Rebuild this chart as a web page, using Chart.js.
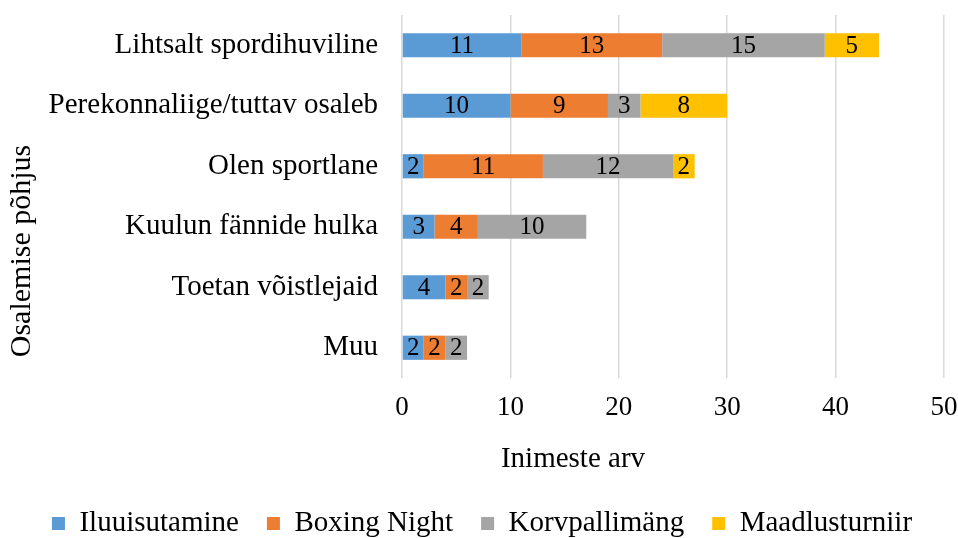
<!DOCTYPE html>
<html>
<head>
<meta charset="utf-8">
<script src="https://cdn.jsdelivr.net/npm/chart.js@4.4.0/dist/chart.umd.min.js"></script>
<style>
  html, body { margin: 0; padding: 0; background: #fff; }
  #wrap { width: 958px; height: 538px; }
</style>
</head>
<body>
<div id="wrap"><canvas id="chart" width="958" height="538"></canvas></div>
<script>
// Data
const categories = ['Lihtsalt spordihuviline', 'Perekonnaliige/tuttav osaleb', 'Olen sportlane',
                    'Kuulun fännide hulka', 'Toetan võistlejaid', 'Muu'];
const iluuisutamine = [11, 10, 2, 3, 4, 2];
const boxingNight   = [13, 9, 11, 4, 2, 2];
const korvpallimang = [15, 3, 12, 10, 2, 2];
const maadlusturniir = [5, 8, 2, 0, 0, 0];
const xTicks = [0, 10, 20, 30, 40, 50];

const serif = '"Liberation Serif", "Times New Roman", serif';

// numbers in the middle of each segment
const segmentLabels = {
    id: 'segmentLabels',
    afterDatasetsDraw(chart) {
        const ctx = chart.ctx;
        ctx.save();
        ctx.font = '25px ' + serif;
        ctx.fillStyle = '#000';
        ctx.textAlign = 'center';
        ctx.textBaseline = 'middle';
        chart.data.datasets.forEach((ds, i) => {
            const meta = chart.getDatasetMeta(i);
            meta.data.forEach((bar, j) => {
                const v = ds.data[j];
                if (!v) return;
                ctx.fillText(String(v), (bar.x + bar.base) / 2, bar.y + 1);
            });
        });
        ctx.restore();
    }
};

// axis titles, placed like in the Excel original (not centred on the plot)
const axisTitles = {
    id: 'axisTitles',
    afterDraw(chart) {
        const ctx = chart.ctx;
        const area = chart.chartArea;
        ctx.save();
        ctx.fillStyle = '#000';
        ctx.textAlign = 'center';
        ctx.textBaseline = 'middle';
        ctx.font = '29px ' + serif;
        ctx.fillText('Inimeste arv', area.left + 171, area.bottom + 81);
        ctx.font = '30px ' + serif;
        ctx.translate(22, area.top + 236);
        ctx.rotate(-Math.PI / 2);
        ctx.fillText('Osalemise põhjus', 0, 0);
        ctx.restore();
    }
};

new Chart(document.getElementById('chart'), {
    type: 'bar',
    data: {
        labels: categories,
        datasets: [
            { label: 'Iluuisutamine', data: iluuisutamine, backgroundColor: '#5B9BD5' },
            { label: 'Boxing Night', data: boxingNight, backgroundColor: '#ED7D31' },
            { label: 'Korvpallimäng', data: korvpallimang, backgroundColor: '#A5A5A5' },
            { label: 'Maadlusturniir', data: maadlusturniir, backgroundColor: '#FFC000' }
        ]
    },
    options: {
        indexAxis: 'y',
        responsive: false,
        animation: false,
        maintainAspectRatio: false,
        categoryPercentage: 1,
        barPercentage: 0.4,
        layout: { padding: { left: 20, right: 14, top: 15, bottom: -10 } },
        scales: {
            x: {
                stacked: true,
                min: 0,
                max: 50,
                afterBuildTicks: axis => { axis.ticks = xTicks.map(v => ({ value: v })); },
                afterFit: axis => {
                    axis.height = 103;
                    axis.paddingLeft = 0;
                    axis.paddingRight = 0;
                },
                grid: { color: '#D9D9D9', lineWidth: 1.5, drawTicks: false },
                border: { display: false },
                ticks: { color: '#000', padding: 14, font: { family: serif, size: 27 } }
            },
            y: {
                stacked: true,
                afterFit: axis => {
                    axis.width = 382;
                    axis.paddingTop = 0;
                    axis.paddingBottom = 0;
                },
                grid: { display: false, drawTicks: false },
                border: { display: false },
                ticks: { color: '#000', padding: 24, font: { family: serif, size: 29 } }
            }
        },
        plugins: {
            legend: {
                position: 'bottom',
                labels: {
                    color: '#000',
                    boxWidth: 13,
                    boxHeight: 13,
                    padding: 28,
                    font: { family: serif, size: 29 }
                }
            },
            tooltip: { enabled: false }
        }
    },
    plugins: [segmentLabels, axisTitles]
});
</script>
</body>
</html>
